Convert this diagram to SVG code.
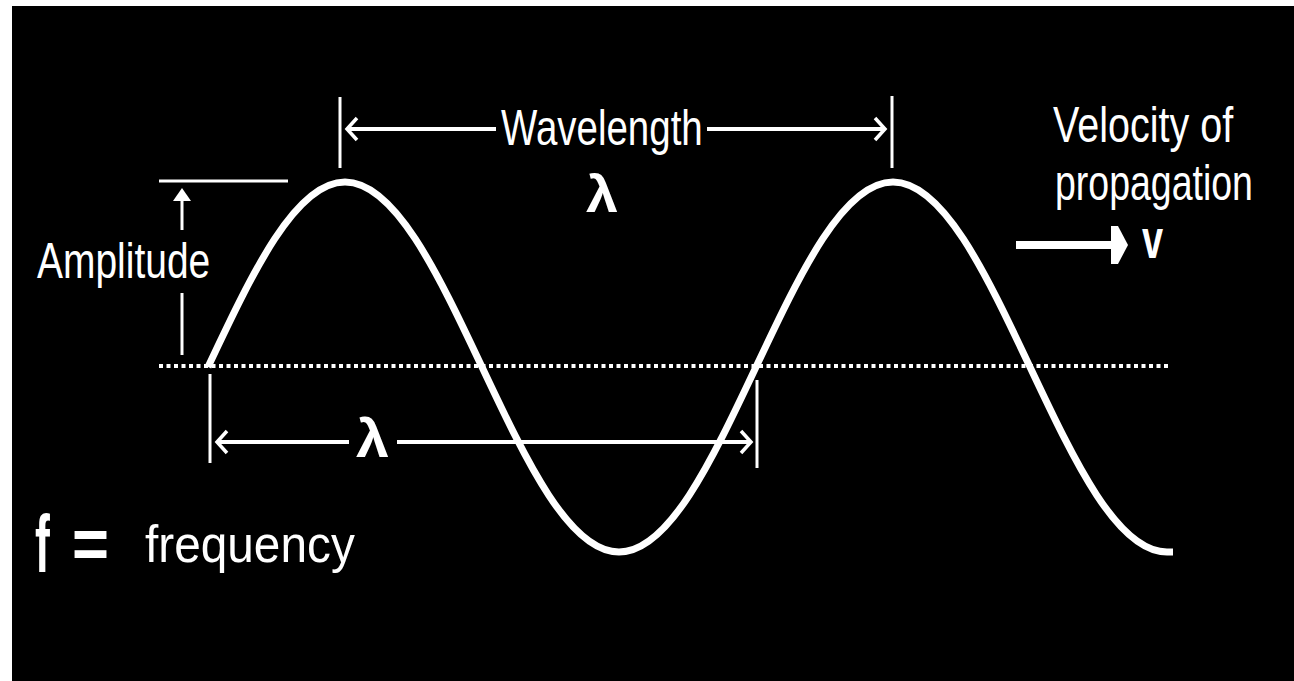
<svg xmlns="http://www.w3.org/2000/svg" width="1294" height="681" viewBox="0 0 1294 681">
<style>
.lbl{font-family:"Liberation Sans","DejaVu Sans",sans-serif;fill:#fff;}
.bold{font-weight:bold;}
.ln{stroke:#fff;fill:none;}
.head{stroke:#fff;fill:none;stroke-width:3.5;stroke-linejoin:miter;}
.fillw{fill:#fff;}
</style>
<rect x="0" y="0" width="1294" height="681" fill="#fff"/>
<rect x="12" y="6" width="1282" height="675" fill="#000"/>
<g id="wave">
<path class="ln" stroke-width="7" d="M208,367 C252.7,272.2 295.4,182 345,182 C394.6,182 437.3,272.2 482,367 C526.7,461.8 569.4,552 619,552 C668.6,552 711.3,461.8 756,367 C800.7,272.2 843.4,182 893,182 C942.6,182 985.3,272.2 1030,367 C1074.7,461.8 1117.4,552 1167,552 L1173,552"/>
</g>
<g id="connectors">
<line id="baseline" class="ln" x1="159" y1="366" x2="1168" y2="366" stroke-width="4" stroke-dasharray="4 3.5"/>
<line class="ln" x1="159" y1="181" x2="288" y2="181" stroke-width="3"/>
<line class="ln" x1="182" y1="196" x2="182" y2="230" stroke-width="3"/>
<polygon class="fillw" points="182,188 191,201 173,201"/>
<line class="ln" x1="182" y1="293" x2="182" y2="355" stroke-width="3"/>
<line class="ln" x1="340" y1="97" x2="340" y2="168" stroke-width="3"/>
<line class="ln" x1="892" y1="96" x2="892" y2="168" stroke-width="3"/>
<line class="ln" x1="348" y1="129" x2="496" y2="129" stroke-width="4"/>
<polyline class="head" points="357,118 347,129 357,140"/>
<line class="ln" x1="707" y1="129" x2="884" y2="129" stroke-width="4"/>
<polyline class="head" points="875,118 885,129 875,140"/>
<line class="ln" x1="210" y1="374" x2="210" y2="463" stroke-width="3"/>
<line class="ln" x1="757" y1="380" x2="757" y2="468" stroke-width="3"/>
<line class="ln" x1="218" y1="442" x2="349" y2="442" stroke-width="4"/>
<polyline class="head" points="227,431 217,442 227,453"/>
<line class="ln" x1="397" y1="442" x2="750" y2="442" stroke-width="4"/>
<polyline class="head" points="741,431 751,442 741,453"/>
<line class="ln" x1="1016" y1="245" x2="1114" y2="245" stroke-width="8"/>
<polygon class="fillw" points="1111,226 1118,226 1128,245 1118,264 1111,264"/>
</g>
<g id="label-wavelength">
<text class="lbl" transform="translate(501,145) scale(0.77,1)" style="font-size:50px" textLength="262" lengthAdjust="spacingAndGlyphs">Wavelength</text>
<text class="lbl bold" x="586" y="212" style="font-size:52px" textLength="32" lengthAdjust="spacingAndGlyphs">λ</text>
</g>
<g id="label-lambda">
<text class="lbl bold" x="356" y="457" style="font-size:54px" textLength="33" lengthAdjust="spacingAndGlyphs">λ</text>
</g>
<g id="label-amplitude">
<text class="lbl" transform="translate(37,278) scale(0.77,1)" style="font-size:50px" textLength="225" lengthAdjust="spacingAndGlyphs">Amplitude</text>
</g>
<g id="label-velocity">
<text class="lbl" transform="translate(1053,142) scale(0.77,1)" style="font-size:50px" textLength="234" lengthAdjust="spacingAndGlyphs">Velocity of</text>
<text class="lbl" transform="translate(1055,200) scale(0.77,1)" style="font-size:50px" textLength="257" lengthAdjust="spacingAndGlyphs">propagation</text>
<text class="lbl bold" transform="translate(1142,258) scale(0.68,1)" style="font-size:56px" textLength="31" lengthAdjust="spacingAndGlyphs">v</text>
</g>
<g id="label-frequency">
<text class="lbl bold" transform="translate(35,572) scale(0.55,1)" style="font-size:82px" textLength="27" lengthAdjust="spacingAndGlyphs">f</text>
<text class="lbl bold" transform="translate(72,568) scale(1,1.2)" style="font-size:60px" textLength="37" lengthAdjust="spacingAndGlyphs">=</text>
<text class="lbl" transform="translate(145,562) scale(0.92,1)" style="font-size:52px" textLength="228" lengthAdjust="spacingAndGlyphs">frequency</text>
</g>
</svg>
